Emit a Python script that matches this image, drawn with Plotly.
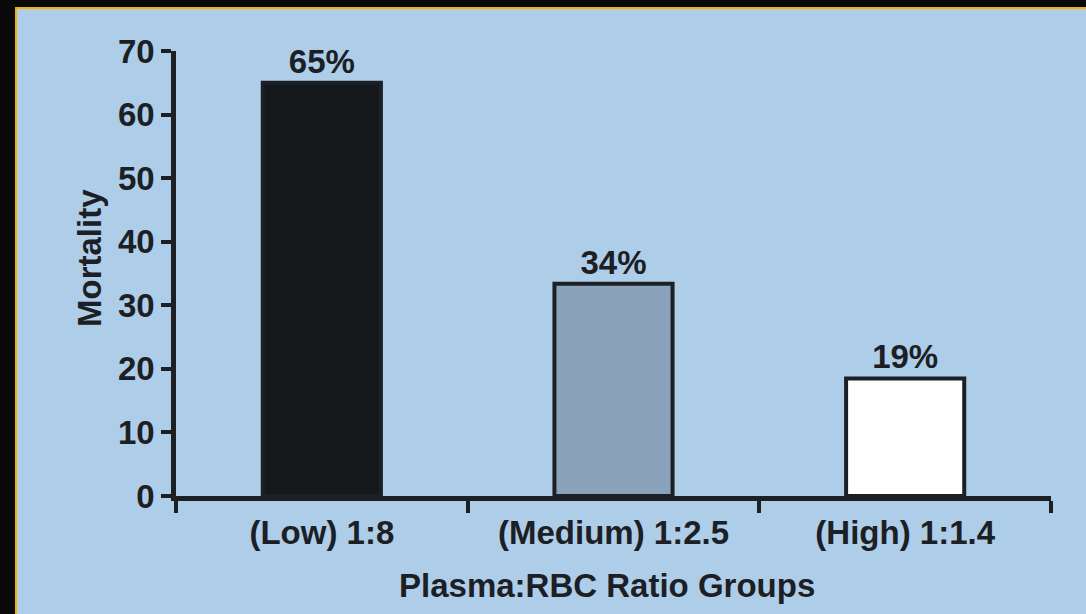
import plotly.graph_objects as go

categories = ["(Low) 1:8", "(Medium) 1:2.5", "(High) 1:1.4"]
mortality = [65, 33.4, 18.5]
bar_labels = ["<b>65%</b>", "<b>34%</b>", "<b>19%</b>"]
bar_colors = ["#16191c", "#8aa3ba", "#ffffff"]
y_ticks = [0, 10, 20, 30, 40, 50, 60, 70]

BG = "#aecde8"
INK = "#1c2024"
FONT = "Liberation Sans, Arial, sans-serif"
FS = 33
W, H = 1086, 614
ML, MR, MT, MB = 176, 35, 51, 118
PW, PH = W - ML - MR, H - MT - MB

def px(x):
    return (x - ML) / PW

def py(y):
    return (H - MB - y) / PH

fig = go.Figure()
fig.add_trace(go.Bar(
    x=categories, y=mortality,
    marker=dict(color=bar_colors, line=dict(color=INK, width=4)),
    width=0.405,
    text=bar_labels, textposition="outside", cliponaxis=False,
    textfont=dict(family=FONT, size=FS, color=INK),
))

fig.update_layout(
    width=W, height=H,
    margin=dict(l=ML, r=MR, t=MT, b=MB, pad=0),
    paper_bgcolor=BG, plot_bgcolor=BG,
    showlegend=False,
    font=dict(family=FONT, size=FS, color=INK),
    xaxis=dict(
        showline=True, linecolor=INK, linewidth=4.5,
        ticks="outside", ticklen=12, tickwidth=4, tickcolor=INK,
        tickson="boundaries", showgrid=False, zeroline=False,
        tickvals=categories,
        ticktext=["<b>" + c + "</b>" for c in categories],
        ticklabelstandoff=4,
        tickfont=dict(family=FONT, size=FS, color=INK),
    ),
    yaxis=dict(
        range=[0, 70], tickvals=y_ticks,
        ticktext=["<b>%d</b>" % v for v in y_ticks],
        showline=True, linecolor=INK, linewidth=4.5,
        ticks="outside", ticklen=10, tickwidth=4, tickcolor=INK,
        showgrid=False, zeroline=False,
        tickfont=dict(family=FONT, size=FS, color=INK),
    ),
    shapes=[
        dict(type="rect", xref="paper", yref="paper",
             x0=px(0), x1=px(W), y0=py(0), y1=py(7), fillcolor="#0a0a0a",
             line=dict(width=0), layer="above"),
        dict(type="rect", xref="paper", yref="paper",
             x0=px(0), x1=px(15), y0=py(0), y1=py(H), fillcolor="#0a0a0a",
             line=dict(width=0), layer="above"),
        dict(type="rect", xref="paper", yref="paper",
             x0=px(15), x1=px(W), y0=py(7), y1=py(9), fillcolor="#f0b400",
             line=dict(width=0), layer="above"),
        dict(type="rect", xref="paper", yref="paper",
             x0=px(15), x1=px(17), y0=py(7), y1=py(H), fillcolor="#f0b400",
             line=dict(width=0), layer="above"),
    ],
    annotations=[
        dict(text="<b>Plasma:RBC Ratio Groups</b>", xref="paper", yref="paper",
             x=px(607), y=py(585), xanchor="center", yanchor="middle",
             showarrow=False, font=dict(family=FONT, size=FS, color=INK)),
        dict(text="<b>Mortality</b>", xref="paper", yref="paper",
             x=px(89), y=py(258), xanchor="center", yanchor="middle",
             textangle=-90, showarrow=False,
             font=dict(family=FONT, size=FS, color=INK)),
    ],
)

fig.write_html("out.html")
